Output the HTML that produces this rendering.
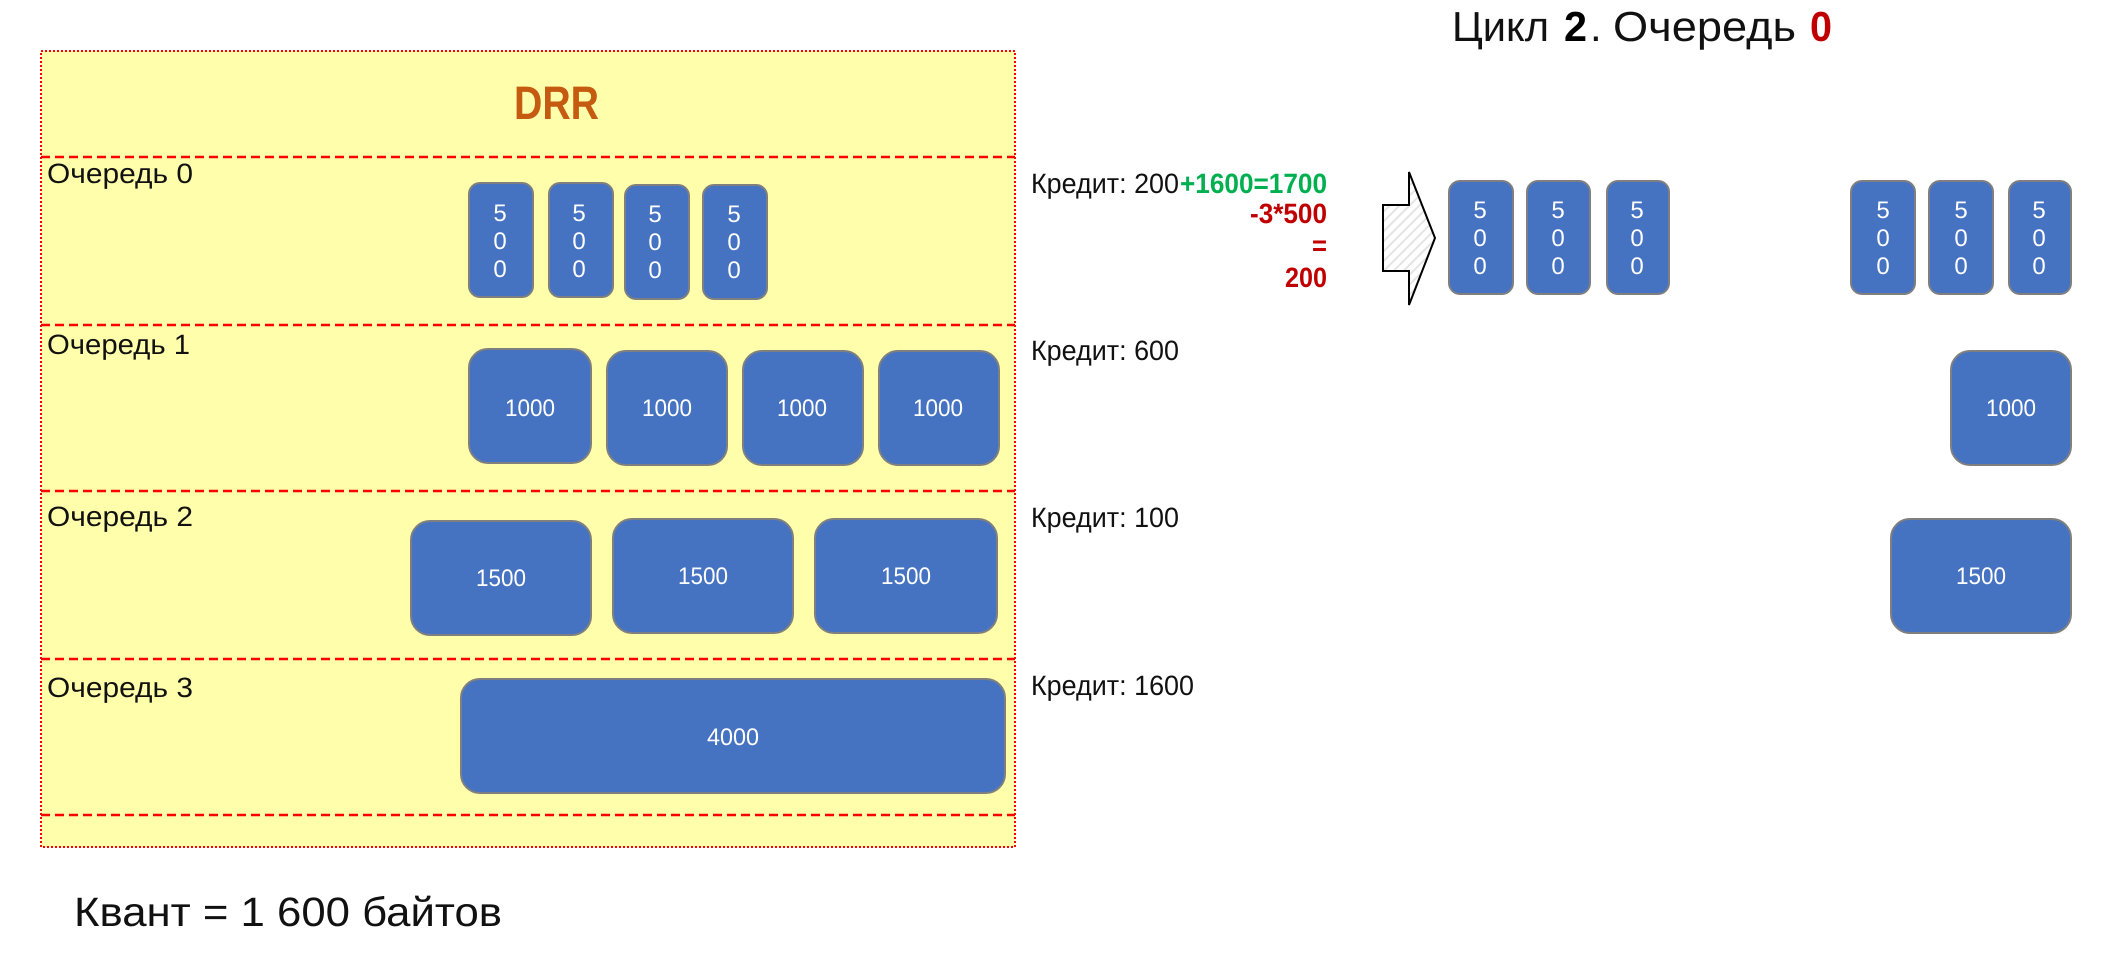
<!DOCTYPE html>
<html lang="ru"><head><meta charset="utf-8"><title>DRR</title>
<style>
html,body{margin:0;padding:0;background:#fff;width:2112px;height:980px;overflow:hidden}
svg{display:block}
text{font-family:"Liberation Sans","DejaVu Sans",sans-serif;text-rendering:geometricPrecision}
.q{font-size:28px;fill:#111}
.b{fill:#4673C1;stroke:#7f7f7f;stroke-width:2}
.t{font-size:24px;fill:#fff;text-anchor:middle}
.l{stroke:#ff0000;stroke-width:2.5;stroke-dasharray:9 5;fill:none}
.g{font-weight:bold;fill:#00B050}
.r{font-weight:bold;fill:#C00000}
</style></head><body>
<svg width="2112" height="980" viewBox="0 0 2112 980" xmlns="http://www.w3.org/2000/svg">
<defs><pattern id="h" width="7" height="7" patternUnits="userSpaceOnUse" patternTransform="rotate(45)"><rect width="7" height="7" fill="#fff"/><rect width="2" height="7" fill="#e4e4e4"/></pattern></defs>
<rect x="41" y="51" width="974" height="796" fill="#FFFFAB" stroke="#ff0000" stroke-width="2" stroke-dasharray="2 2"/>
<path class="l" d="M41 157H1015M41 325H1015M41 491H1015M41 659H1015M41 815H1015"/>
<text x="514" y="119" font-size="47" font-weight="bold" fill="#C55A11" textLength="85" lengthAdjust="spacingAndGlyphs">DRR</text>
<text class="q" x="47" y="183" textLength="146" lengthAdjust="spacingAndGlyphs">Очередь 0</text>
<text class="q" x="47" y="354" textLength="143" lengthAdjust="spacingAndGlyphs">Очередь 1</text>
<text class="q" x="47" y="526" textLength="146" lengthAdjust="spacingAndGlyphs">Очередь 2</text>
<text class="q" x="47" y="697" textLength="146" lengthAdjust="spacingAndGlyphs">Очередь 3</text>

<!-- Q0 -->
<rect class="b" x="469" y="183" width="64" height="114" rx="11"/>
<rect class="b" x="549" y="183" width="64" height="114" rx="11"/>
<rect class="b" x="625" y="185" width="64" height="114" rx="11"/>
<rect class="b" x="703" y="185" width="64" height="114" rx="11"/>
<text class="t" x="500" y="221">5</text><text class="t" x="500" y="249">0</text><text class="t" x="500" y="277">0</text>
<text class="t" x="579" y="221">5</text><text class="t" x="579" y="249">0</text><text class="t" x="579" y="277">0</text>
<text class="t" x="655" y="222">5</text><text class="t" x="655" y="250">0</text><text class="t" x="655" y="278">0</text>
<text class="t" x="734" y="222">5</text><text class="t" x="734" y="250">0</text><text class="t" x="734" y="278">0</text>
<!-- Q1 -->
<rect class="b" x="469" y="349" width="122" height="114" rx="19"/>
<rect class="b" x="607" y="351" width="120" height="114" rx="19"/>
<rect class="b" x="743" y="351" width="120" height="114" rx="19"/>
<rect class="b" x="879" y="351" width="120" height="114" rx="19"/>
<text class="t" x="530" y="416" textLength="50" lengthAdjust="spacingAndGlyphs">1000</text>
<text class="t" x="667" y="416" textLength="50" lengthAdjust="spacingAndGlyphs">1000</text>
<text class="t" x="802" y="416" textLength="50" lengthAdjust="spacingAndGlyphs">1000</text>
<text class="t" x="938" y="416" textLength="50" lengthAdjust="spacingAndGlyphs">1000</text>
<!-- Q2 -->
<rect class="b" x="411" y="521" width="180" height="114" rx="19"/>
<rect class="b" x="613" y="519" width="180" height="114" rx="19"/>
<rect class="b" x="815" y="519" width="182" height="114" rx="19"/>
<text class="t" x="501" y="586" textLength="50" lengthAdjust="spacingAndGlyphs">1500</text>
<text class="t" x="703" y="584" textLength="50" lengthAdjust="spacingAndGlyphs">1500</text>
<text class="t" x="906" y="584" textLength="50" lengthAdjust="spacingAndGlyphs">1500</text>
<!-- Q3 -->
<rect class="b" x="461" y="679" width="544" height="114" rx="19"/>
<text class="t" x="733" y="745" textLength="52" lengthAdjust="spacingAndGlyphs">4000</text>

<text class="q" x="1031" y="193"><tspan textLength="148" lengthAdjust="spacingAndGlyphs">Кредит: 200</tspan></text>
<text class="q g" x="1180" y="193" textLength="147" lengthAdjust="spacingAndGlyphs">+1600=1700</text>
<text class="q r" x="1250" y="223" textLength="77" lengthAdjust="spacingAndGlyphs" style="fill:#C00000">-3*500</text>
<text class="q r" x="1312" y="255" textLength="15" lengthAdjust="spacingAndGlyphs" style="fill:#C00000">=</text>
<text class="q r" x="1285" y="287" textLength="42" lengthAdjust="spacingAndGlyphs" style="fill:#C00000">200</text>
<text class="q" x="1031" y="360" textLength="148" lengthAdjust="spacingAndGlyphs">Кредит: 600</text>
<text class="q" x="1031" y="527" textLength="148" lengthAdjust="spacingAndGlyphs">Кредит: 100</text>
<text class="q" x="1031" y="695" textLength="163" lengthAdjust="spacingAndGlyphs">Кредит: 1600</text>

<text x="1452" y="41" font-size="42" fill="#111"><tspan textLength="97" lengthAdjust="spacingAndGlyphs">Цикл</tspan></text>
<text x="1564" y="41" font-size="42" font-weight="bold" fill="#000" textLength="23" lengthAdjust="spacingAndGlyphs">2</text>
<text x="1590" y="41" font-size="42" fill="#111">.</text>
<text x="1613" y="41" font-size="42" fill="#111" textLength="183" lengthAdjust="spacingAndGlyphs">Очередь</text>
<text x="1810" y="41" font-size="42" font-weight="bold" fill="#C00000" textLength="22" lengthAdjust="spacingAndGlyphs">0</text>

<path d="M1383 205H1409V172L1435 238L1409 305V271H1383Z" fill="url(#h)" stroke="#000" stroke-width="2"/>

<rect class="b" x="1449" y="181" width="64" height="113" rx="11"/>
<rect class="b" x="1527" y="181" width="63" height="113" rx="11"/>
<rect class="b" x="1607" y="181" width="62" height="113" rx="11"/>
<rect class="b" x="1851" y="181" width="64" height="113" rx="11"/>
<rect class="b" x="1929" y="181" width="64" height="113" rx="11"/>
<rect class="b" x="2009" y="181" width="62" height="113" rx="11"/>
<text class="t" x="1480" y="218">5</text><text class="t" x="1480" y="246">0</text><text class="t" x="1480" y="274">0</text>
<text class="t" x="1558" y="218">5</text><text class="t" x="1558" y="246">0</text><text class="t" x="1558" y="274">0</text>
<text class="t" x="1637" y="218">5</text><text class="t" x="1637" y="246">0</text><text class="t" x="1637" y="274">0</text>
<text class="t" x="1883" y="218">5</text><text class="t" x="1883" y="246">0</text><text class="t" x="1883" y="274">0</text>
<text class="t" x="1961" y="218">5</text><text class="t" x="1961" y="246">0</text><text class="t" x="1961" y="274">0</text>
<text class="t" x="2039" y="218">5</text><text class="t" x="2039" y="246">0</text><text class="t" x="2039" y="274">0</text>
<rect class="b" x="1951" y="351" width="120" height="114" rx="19"/>
<text class="t" x="2011" y="416" textLength="50" lengthAdjust="spacingAndGlyphs">1000</text>
<rect class="b" x="1891" y="519" width="180" height="114" rx="19"/>
<text class="t" x="1981" y="584" textLength="50" lengthAdjust="spacingAndGlyphs">1500</text>

<text x="74" y="926" font-size="41" fill="#111" textLength="428" lengthAdjust="spacingAndGlyphs">Квант = 1 600 байтов</text>
</svg>
</body></html>
